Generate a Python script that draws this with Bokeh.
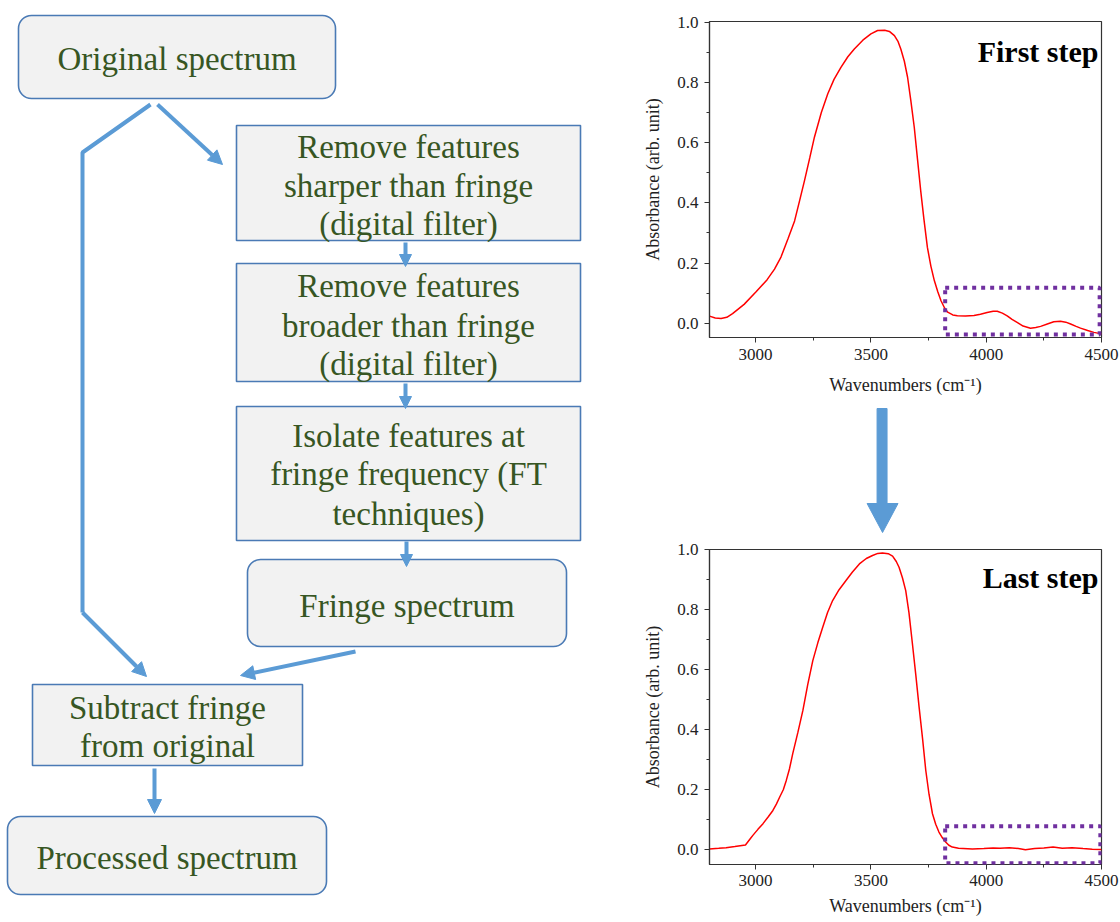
from bokeh.plotting import figure
from bokeh.layouts import row, column
from bokeh.models import (Range1d, SingleIntervalTicker, NumeralTickFormatter, Label,
                          BoxAnnotation, Arrow, NormalHead)
from bokeh.core.properties import value
from bokeh.embed import file_html
from bokeh.resources import INLINE

# ---------------- data ----------------
first_wn = [2800, 2825, 2850, 2875, 2900, 2950, 3000, 3050, 3082, 3110, 3140, 3169, 3190, 3212,
            3235, 3255, 3285, 3313, 3340, 3370, 3400, 3428, 3465, 3500, 3529, 3560, 3580, 3602,
            3618, 3630, 3645, 3659, 3673, 3688, 3702, 3716, 3730, 3745, 3760, 3775, 3790, 3804,
            3820, 3833, 3855, 3875, 3910, 3947, 3975, 4004, 4030, 4048, 4070, 4091, 4112, 4134,
            4160, 4192, 4215, 4236, 4265, 4293, 4322, 4345, 4366, 4390, 4409, 4440, 4467, 4500]
first_abs = [0.024, 0.018, 0.016, 0.020, 0.032, 0.063, 0.103, 0.145, 0.180, 0.220, 0.280, 0.340,
             0.405, 0.474, 0.550, 0.618, 0.700, 0.762, 0.810, 0.850, 0.885, 0.911, 0.940, 0.961,
             0.972, 0.973, 0.969, 0.955, 0.935, 0.910, 0.870, 0.817, 0.740, 0.651, 0.545, 0.440,
             0.345, 0.252, 0.190, 0.142, 0.105, 0.075, 0.050, 0.037, 0.028, 0.025, 0.024, 0.026,
             0.030, 0.036, 0.040, 0.040, 0.034, 0.025, 0.013, 0.003, -0.009, -0.016, -0.014,
             -0.010, -0.002, 0.005, 0.007, 0.004, -0.002, -0.010, -0.016, -0.024, -0.030, -0.035]

last_wn = [2800, 2840, 2872, 2910, 2956, 2975, 2988, 3010, 3032, 3055, 3075, 3090, 3104, 3120,
           3133, 3147, 3161, 3183, 3205, 3226, 3248, 3270, 3291, 3312, 3334, 3362, 3392, 3420,
           3450, 3480, 3507, 3530, 3550, 3575, 3594, 3610, 3622, 3637, 3651, 3665, 3680, 3695,
           3709, 3724, 3738, 3752, 3767, 3781, 3795, 3810, 3824, 3838, 3853, 3880, 3940, 3990,
           4030, 4060, 4100, 4140, 4170, 4210, 4250, 4290, 4330, 4372, 4420, 4460, 4500]
last_abs = [0.003, 0.005, 0.007, 0.011, 0.016, 0.035, 0.048, 0.068, 0.087, 0.110, 0.131, 0.152,
            0.175, 0.200, 0.231, 0.270, 0.320, 0.390, 0.464, 0.550, 0.630, 0.690, 0.741, 0.790,
            0.830, 0.866, 0.897, 0.925, 0.952, 0.970, 0.980, 0.987, 0.988, 0.986, 0.978, 0.960,
            0.941, 0.905, 0.863, 0.790, 0.686, 0.580, 0.475, 0.370, 0.264, 0.185, 0.120, 0.085,
            0.059, 0.040, 0.026, 0.015, 0.009, 0.005, 0.003, 0.004, 0.006, 0.005, 0.007, 0.004,
            0.000, 0.004, 0.006, 0.009, 0.005, 0.007, 0.004, 0.002, 0.001]

# highlighted fringe region (wavenumber left/right, absorbance bottom/top)
first_box = [3822, 4492, -0.037, 0.118]
last_box = [3822, 4495, -0.045, 0.078]

step_titles = ["First step", "Last step"]
x_title = "Wavenumbers (cm\u207b\u00b9)"
y_title = "Absorbance (arb. unit)"

box_lines = [
    ["Original spectrum"],
    ["Remove features", "sharper than fringe", "(digital filter)"],
    ["Remove features", "broader than fringe", "(digital filter)"],
    ["Isolate features at", "fringe frequency (FT", "techniques)"],
    ["Fringe spectrum"],
    ["Subtract fringe", "from original"],
    ["Processed spectrum"],
]

SERIF = "Liberation Serif"
BOX_FILL = "#F2F2F2"
BOX_LINE = "#4A7AB5"
TXT = "#375623"
ARROW = "#5B9BD5"

# ---------------- flowchart (pixel space) ----------------
fl = figure(width=640, height=922, x_range=Range1d(0, 640), y_range=Range1d(922, 0),
            output_backend="svg", toolbar_location=None, min_border=0,
            x_axis_location=None, y_axis_location=None)
fl.grid.visible = False
fl.outline_line_color = None

# box geometry: left, right, top, bottom, rounded?
boxes = [
    (18, 335, 15, 98, True),
    (236, 580, 125, 240, False),
    (236, 580, 263, 381, False),
    (236, 580, 406, 540, False),
    (247, 566, 559, 646, True),
    (32, 302, 684, 765, False),
    (7, 326, 816, 894, True),
]
line_y = [[58], [146, 185, 223], [285, 325, 363], [435, 473, 513], [605], [707, 745], [857]]

for (l, r, t, b, rounded), lines, ys in zip(boxes, box_lines, line_y):
    fl.quad(left=[l], right=[r], top=[t], bottom=[b], fill_color=BOX_FILL,
            line_color=BOX_LINE, line_width=1.6, border_radius=13 if rounded else 0)
    cx = (l + r) / 2
    fl.text(x=[cx] * len(lines), y=ys, text=lines, text_font=value(SERIF),
            text_font_size="33px", text_color=TXT, text_align="center",
            text_baseline="middle")

# left branch polyline
fl.line(x=[150, 82, 82], y=[104, 152, 612], line_color=ARROW, line_width=4)


def arrow(x0, y0, x1, y1, size=14):
    fl.add_layout(Arrow(x_start=x0, y_start=y0, x_end=x1, y_end=y1, line_color=ARROW,
                        line_width=4,
                        end=NormalHead(size=size, fill_color=ARROW, line_color=ARROW,
                                       line_width=1)))


arrow(82, 612, 146, 676)
arrow(157, 104, 222, 164)
arrow(405, 242, 405, 266, 12)
arrow(405, 383, 405, 408, 12)
arrow(406, 541, 406, 566, 12)
arrow(355, 651, 240, 675)
arrow(154, 768, 154, 813)


# ---------------- spectrum charts ----------------
def spectrum(wn, ab, box, title, height, b_top, b_bottom, y_lo, y_hi, lab_sd, title_sd,
             title_y):
    p = figure(width=480, height=height, x_range=Range1d(2800, 4500),
               y_range=Range1d(y_lo, y_hi),
               output_backend="svg", toolbar_location=None,
               min_border_left=68, min_border_right=19, min_border_top=b_top,
               min_border_bottom=b_bottom)
    p.grid.visible = False
    p.outline_line_color = "#333333"
    p.outline_line_width = 1.2
    p.xaxis.ticker = SingleIntervalTicker(interval=500, num_minor_ticks=2)
    p.yaxis.ticker = SingleIntervalTicker(interval=0.2, num_minor_ticks=2)
    p.xaxis.formatter = NumeralTickFormatter(format="0")
    p.yaxis.formatter = NumeralTickFormatter(format="0.0")
    for ax in (p.xaxis[0], p.yaxis[0]):
        ax.axis_line_color = "#333333"
        ax.axis_line_width = 1.2
        ax.major_tick_line_color = "#333333"
        ax.minor_tick_line_color = "#333333"
        ax.major_tick_in = 0
        ax.major_tick_out = 5
        ax.minor_tick_in = 0
        ax.minor_tick_out = 3
        ax.major_label_text_font = SERIF
        ax.major_label_text_font_size = "17px"
        ax.major_label_text_color = "#222222"
        ax.axis_label_text_font = SERIF
        ax.axis_label_text_font_size = "18px"
        ax.axis_label_text_font_style = "normal"
        ax.axis_label_text_color = "#222222"
    p.xaxis.axis_label = x_title
    p.yaxis.axis_label = y_title
    p.xaxis.major_label_standoff = lab_sd
    p.xaxis.axis_label_standoff = title_sd
    p.yaxis.major_label_standoff = 6
    p.yaxis.axis_label_standoff = 11

    p.line(wn, ab, line_color="#FF0000", line_width=1.5)
    p.add_layout(BoxAnnotation(left=box[0], right=box[1], bottom=box[2], top=box[3],
                               fill_alpha=0, line_color="#7030A0", line_alpha=1.0,
                               line_width=4, line_dash="4 5"))
    p.add_layout(Label(x=389, y=title_y, x_units="screen", y_units="screen", text=title,
                       text_font=SERIF, text_font_size="30px", text_font_style="bold",
                       text_color="#000000", text_align="right",
                       text_baseline="alphabetic"))
    return p


top = spectrum(first_wn, first_abs, first_box, step_titles[0], 402, 21, 65, -0.047, 1.002,
               6, 12, 286)
bot = spectrum(last_wn, last_abs, last_box, step_titles[1], 387, 14, 58, -0.049, 1.0,
               5, 7, 287)

# middle block arrow (pixel space; its frame is aligned with the charts' frames)
mid = figure(width=480, height=133, x_range=Range1d(708, 1101), y_range=Range1d(535, 402),
             output_backend="svg", toolbar_location=None, min_border=0,
             x_axis_location=None, y_axis_location=None)
mid.grid.visible = False
mid.outline_line_color = None
mid.patch(x=[876, 886, 886, 897, 881.5, 866, 876, 876],
          y=[408, 408, 503, 503, 532, 503, 503, 408],
          fill_color=ARROW, line_color=ARROW, line_width=1)

layout = row(fl, column(top, mid, bot, spacing=0), spacing=0)
open("out.html", "w").write(file_html(layout, INLINE))
